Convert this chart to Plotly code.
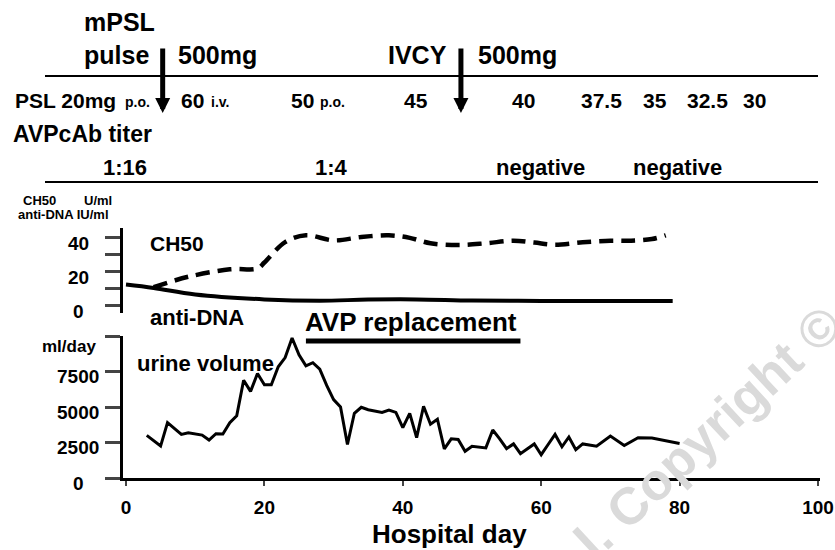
import plotly.graph_objects as go

# ------------------------------------------------------------------ data
URINE_DAY = [3, 5, 6, 8, 9, 11, 12, 13, 14, 15, 16, 17, 18, 19, 20, 21, 22, 23, 24, 25,
             26, 27, 28, 29, 30, 31, 32, 33, 34, 35, 37, 38, 39, 40, 41, 42, 43, 44, 45,
             46, 47, 48, 49, 50, 52, 53, 54, 55, 56, 57, 59, 60, 61, 62, 63, 64, 65, 66,
             68, 70, 72, 74, 76, 80]
URINE_ML = [3000, 2250, 3900, 3070, 3190, 3020, 2670, 3120, 3100, 3900, 4380, 6880, 6100,
            7360, 6570, 6570, 7830, 8480, 9860, 8670, 7900, 8120, 7670, 6520, 5520, 5000,
            2360, 4560, 4980, 4810, 4620, 4790, 4620, 3550, 4550, 2840, 5050, 3790, 4140,
            2050, 2760, 2710, 1880, 2240, 2120, 3380, 2760, 2070, 2400, 1710, 2400, 1640,
            2360, 3070, 2200, 2890, 2000, 2400, 2240, 2950, 2290, 2830, 2810, 2430]

CH50_DAY = [4, 9, 15, 19, 20, 23, 26, 30, 34, 38, 41, 44, 48, 52, 56, 59, 62, 66, 70, 73, 76, 78]
CH50_U = [10.5, 16.6, 21, 21.5, 25, 37, 41, 38, 40, 41, 39.5, 36.3, 35.3, 36.3, 37.8, 36.7,
          35.5, 36.9, 37.8, 37.8, 38.8, 41]

ANTIDNA_DAY = [0, 4, 10, 20, 28, 35, 42, 50, 60, 70, 79]
ANTIDNA_IU = [12, 10, 6.2, 3.3, 2.5, 3.2, 3.3, 2.6, 2.4, 2.4, 2.4]

AVP_START, AVP_END = 26, 57
MPSL_DAY = 5.3
IVCY_DAY = 48.4

PSL_DOSES = ["60", "50", "45", "40", "37.5", "35", "32.5", "30"]
PSL_ROUTES = ["i.v.", "p.o.", "", "", "", "", "", ""]
TITERS = ["1:16", "1:4", "negative", "negative"]

X_TICKS = [0, 20, 40, 60, 80, 100]
URINE_TICKS = [0, 2500, 5000, 7500]
URINE_TICKMARKS = [0, 2500, 5000, 7500, 10000]
CH50_TICKS = [0, 20, 40]
CH50_TICKMARKS = [0, 10, 20, 30, 40]

# ------------------------------------------------------------------ layout helpers
W, H = 835, 550
FONT = "Liberation Sans, Arial, Helvetica, sans-serif"


def fx(px):
    return px / W


def fy(py):
    return 1 - py / H


def label(text, x, y, size, anchor="left", color="black", angle=0):
    return dict(text="<b>%s</b>" % text, x=fx(x), y=fy(y), xref="paper", yref="paper",
                xanchor=anchor, yanchor="middle", showarrow=False, textangle=angle,
                font=dict(family=FONT, size=size, color=color))


fig = go.Figure()

fig.add_trace(go.Scatter(x=URINE_DAY, y=URINE_ML, mode="lines", xaxis="x", yaxis="y",
                         line=dict(color="black", width=3), showlegend=False))
fig.add_trace(go.Scatter(x=CH50_DAY, y=CH50_U, mode="lines", xaxis="x", yaxis="y2",
                         line=dict(color="black", width=4.5, dash="14px,8px", shape="spline"),
                         showlegend=False))
fig.add_trace(go.Scatter(x=ANTIDNA_DAY, y=ANTIDNA_IU, mode="lines", xaxis="x", yaxis="y2",
                         line=dict(color="black", width=4, shape="spline"), showlegend=False))

ann = []
# watermark (light)
ann.append(label("l. Copyright ©", 708, 432, 52, anchor="center", color="#dadada", angle=-43))

# header texts
ann += [
    label("mPSL", 82, 22, 25),
    label("pulse", 82, 55, 25),
    label("500mg", 176, 55, 25),
    label("IVCY", 386, 55, 25),
    label("500mg", 476, 55, 25),
    label("PSL 20mg", 13, 100, 21),
    label("p.o.", 123, 102, 14),
    label("AVPcAb titer", 11, 134, 23),
]
PSL_X = [179, 289, 402, 510, 579, 641, 685, 741]
ROUTE_X = [209, 318]
for i, d in enumerate(PSL_DOSES):
    ann.append(label(d, PSL_X[i], 100, 21))
    if PSL_ROUTES[i]:
        ann.append(label(PSL_ROUTES[i], ROUTE_X[i], 102, 14))
TITER_X = [125, 331, 540, 677]
for t, xc in zip(TITERS, TITER_X):
    ann.append(label(t, xc, 168, 22, anchor="center"))

# panel labels
ann += [
    label("CH50", 21, 200, 13),
    label("U/ml", 82, 200, 13),
    label("anti-DNA IU/ml", 16, 215, 13),
    label("CH50", 148, 243, 21),
    label("anti-DNA", 148, 317, 22),
    label("AVP replacement", 303, 322, 26),
    label("ml/day", 40, 346, 17),
    label("urine volume", 135, 363, 22),
    label("Hospital day", 449, 534, 26, anchor="center"),
]

# y tick labels (centred, like the original)
for v in URINE_TICKS:
    ann.append(dict(text="<b>%d</b>" % v, x=fx(78), y=v, xref="paper", yref="y",
                    xanchor="center", yanchor="middle", yshift=-5, showarrow=False,
                    font=dict(family=FONT, size=19, color="black")))
for v in CH50_TICKS:
    ann.append(dict(text="<b>%d</b>" % v, x=fx(78), y=v, xref="paper", yref="y2",
                    xanchor="center", yanchor="middle", yshift=-6, showarrow=False,
                    font=dict(family=FONT, size=19, color="black")))

# treatment arrows
for d in (MPSL_DAY, IVCY_DAY):
    ann.append(dict(text="", x=d, y=fy(113), xref="x", yref="paper", ax=0, ay=-66,
                    showarrow=True, arrowhead=2, arrowsize=0.6, arrowwidth=5,
                    arrowcolor="black", standoff=0))

shapes = [
    dict(type="line", xref="paper", yref="paper", x0=fx(45), x1=fx(818), y0=fy(76), y1=fy(76),
         line=dict(color="black", width=2)),
    dict(type="line", xref="paper", yref="paper", x0=fx(45), x1=fx(818), y0=fy(182), y1=fy(182),
         line=dict(color="black", width=2)),
    dict(type="line", xref="x", yref="y", x0=AVP_START, x1=AVP_END, y0=9640, y1=9640,
         line=dict(color="black", width=5)),
]

x0_px, x1_px = 123, 820
day0_px, px_per_day = 126, 6.92
fig.update_layout(
    width=W, height=H, autosize=False, margin=dict(l=0, r=0, t=0, b=0),
    paper_bgcolor="white", plot_bgcolor="white",
    font=dict(family=FONT, color="black"),
    showlegend=False,
    xaxis=dict(domain=[fx(x0_px), fx(x1_px)],
               range=[(x0_px - day0_px) / px_per_day, (x1_px - day0_px) / px_per_day],
               anchor="y", tickvals=X_TICKS, ticks="outside", ticklen=5, tickwidth=2,
               showline=True, linewidth=3, linecolor="black", showgrid=False, zeroline=False,
               tickfont=dict(family=FONT, size=19, color="black", weight="bold"),
               ticklabelstandoff=5, automargin=False),
    yaxis=dict(domain=[fy(478), fy(336)], range=[0, 10000], anchor="x",
               tickvals=URINE_TICKMARKS, showticklabels=False, ticks="outside", ticklen=15,
               tickwidth=3, showline=True, linewidth=3, linecolor="black",
               showgrid=False, zeroline=False, automargin=False),
    yaxis2=dict(domain=[fy(313), fy(228)], range=[(305 - 313) / 1.7, (305 - 228) / 1.7],
                anchor="x", tickvals=CH50_TICKMARKS, showticklabels=False, ticks="outside",
                ticklen=15, tickwidth=3, showline=True, linewidth=3, linecolor="black",
                showgrid=False, zeroline=False, automargin=False),
    annotations=ann,
    shapes=shapes,
)

fig.write_html(
    "out.html",
    config={"displayModeBar": False, "responsive": False},
    post_script=(
        "document.documentElement.style.overflow='hidden';"
        "document.body.style.margin='0px';document.body.style.padding='0px';"
        "document.body.style.overflow='hidden';"
        "Plotly.relayout('{plot_id}', {width: 835, height: 550});"
    ),
)
